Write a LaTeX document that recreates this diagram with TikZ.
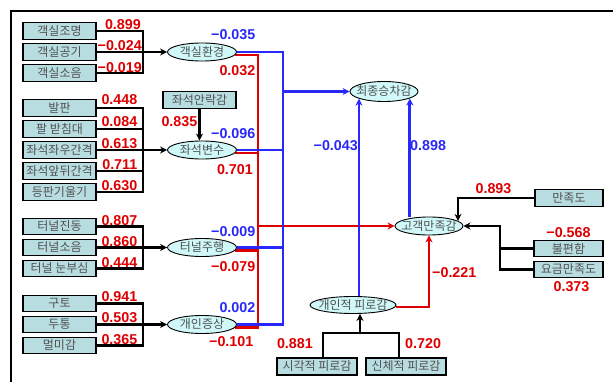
\documentclass[tikz,border=0pt]{standalone}
\usepackage{fontspec}
\setmainfont{Liberation Sans}
\newfontfamily\kr{Noto Sans CJK KR}
\usetikzlibrary{arrows.meta,shapes.geometric,backgrounds,positioning}

\definecolor{boxcol}{RGB}{184,221,225}
\definecolor{ellcol}{RGB}{208,248,248}
\definecolor{txtcol}{RGB}{80,80,80}
\definecolor{coefred}{RGB}{222,0,0}
\definecolor{coefblue}{RGB}{40,40,250}
\newcommand\nowidth[1]{\makebox[0pt]{#1}}

\tikzset{
  item/.style={draw,line width=1.1pt,fill=boxcol,text=txtcol,inner sep=0pt,
    minimum width=73pt,minimum height=16.5pt,font=\kr\fontsize{12}{12}\selectfont},
  factor/.style={ellipse,draw,line width=0.9pt,fill=ellcol,text=txtcol,inner sep=0pt,
    minimum width=69pt,minimum height=18pt,font=\kr\fontsize{12}{12}\selectfont},
  coefr/.style={text=coefred,inner sep=0pt,font=\bfseries\fontsize{14.3}{14}\selectfont},
  coefb/.style={coefr,text=coefblue},
  link/.style={line width=2.8pt},
  arr/.style={link,-{Stealth[length=7pt,width=7pt]}}
}

\begin{document}
\begin{tikzpicture}[x=1pt,y=-1pt]
  \useasboundingbox(0,0)rectangle(613,382);
  \draw[line width=1.5pt](613,11)--(11,11)--(11,382);

  \node[item](light)at(59.5,31){객실조명};
  \node[item](air)at(59.5,52){객실공기};
  \node[item](noise)at(59.5,73){객실소음};
  \node[factor](room)at(202,52){\nowidth{객실환경}};

  \node[item](foot)at(59.5,108){발판};
  \node[item](arm)at(59.5,129){팔 받침대};
  \node[item](side)at(59.5,150){좌석좌우간격};
  \node[item](pitch)at(59.5,171){좌석앞뒤간격};
  \node[item](back)at(59.5,192){등판기울기};
  \node[item](comf)at(199.5,100){좌석안락감};
  \node[factor](seat)at(202,150){\nowidth{좌석변수}};

  \node[item](vib)at(59.5,226.5){터널진동};
  \node[item](tnoise)at(59.5,247.5){터널소음};
  \node[item](glare)at(59.5,268.5){터널 눈부심};
  \node[factor](tunnel)at(202,247.5){\nowidth{터널주행}};

  \node[item](vomit)at(59.5,303.5){구토};
  \node[item](head)at(59.5,324.5){두통};
  \node[item](sick)at(59.5,345.5){멀미감};
  \node[factor](symp)at(202,324.5){\nowidth{개인증상}};

  \node[factor,minimum width=68pt,minimum height=20pt](ride)at(384,91.5){\nowidth{최종승차감}};
  \node[factor,minimum width=68pt](csat)at(429,226){\nowidth{고객만족감}};
  \node[factor,minimum width=86pt,minimum height=17pt](fatg)at(353,305){\nowidth{개인적 피로감}};
  \node[item,minimum width=68pt,minimum height=17.5pt](satis)at(569,198){만족도};
  \node[item,minimum width=69pt](incon)at(568.5,248.5){불편함};
  \node[item,minimum width=69pt](fare)at(568.5,269.5){요금만족도};
  \node[item,minimum width=80pt,minimum height=17pt](vis)at(317,366.5){시각적 피로감};
  \node[item,minimum width=80pt,minimum height=17pt](phys)at(406,366.5){신체적 피로감};

  \coordinate(bus)at(143,0);
  \coordinate(rbus)at(258,0);
  \coordinate(bbus)at(283,0);
  \coordinate(rjoin)at(500,0);
  \coordinate(fl)at(323,333);
  \coordinate(fm)at(360,333);
  \coordinate(fr)at(399,333);

  \begin{scope}[on background layer]
    \foreach \ta/\tb/\tc/\tl in {light/air/noise/room,foot/side/back/seat,
      vib/tnoise/glare/tunnel,vomit/head/sick/symp}{
      \draw[link](\ta.east)-|(bus|-\tc.east)--(\tc.east);
      \draw[arr](\tb.east)--(\tl.west);
    }
    \draw[link](arm.east)--(arm.east-|bus);
    \draw[link](pitch.east)--(pitch.east-|bus);
    \draw[arr](comf.south)--(comf.south|-seat.north);

    \draw[link,coefred](room.-5)-|(rbus|-symp.-5)--(symp.-5);
    \draw[link,coefred](seat.-5 -| rbus)--(seat.-5);
    \draw[link,coefred](tunnel.-5 -| rbus)--(tunnel.-5);
    \draw[arr,coefred](rbus|-csat.west)--(csat.west);
    \draw[arr,coefred]([yshift=-2pt]fatg.east)-|(csat.south);

    \draw[link,coefblue](room.east)-|(bbus|-symp.east)--(symp.east);
    \draw[link,coefblue](seat.east)--(seat.east-|bbus);
    \draw[link,coefblue](tunnel.east)--(tunnel.east-|bbus);
    \draw[arr,coefblue](bbus|-ride.west)--(ride.west);
    \draw[arr,coefblue](ride.196|-fatg.north)--(ride.196);
    \draw[arr,coefblue](ride.-15|-csat.north)--(ride.-15);

    \draw[arr](satis.west)-|(csat.10);
    \draw[link](incon.west)--(incon.west-|rjoin);
    \draw[arr](fare.west)-|(rjoin|-csat.east)--(csat.east);
    \draw[link](vis.north-|fl)--(fl)--(fr)--(phys.north-|fr);
    \draw[arr](fm)--(fm|-fatg.south);
  \end{scope}

  \node[coefr,anchor=east]at(141,24.5){0.899};
  \node[coefr,anchor=east]at(142,45.5){−0.024};
  \node[coefr,anchor=east]at(142,67.5){−0.019};
  \node[coefr,anchor=east]at(137.5,100){0.448};
  \node[coefr,anchor=east]at(137.5,122){0.084};
  \node[coefr,anchor=east]at(137.5,143.5){0.613};
  \node[coefr,anchor=east]at(137.5,164.5){0.711};
  \node[coefr,anchor=east]at(137.5,185.5){0.630};
  \node[coefr,anchor=east]at(137.5,220.5){0.807};
  \node[coefr,anchor=east]at(137.5,241.5){0.860};
  \node[coefr,anchor=east]at(137.5,262.5){0.444};
  \node[coefr,anchor=east]at(137.5,296.5){0.941};
  \node[coefr,anchor=east]at(137.5,318){0.503};
  \node[coefr,anchor=east]at(137.5,339.5){0.365};
  \node[coefr,anchor=east]at(197.5,122){0.835};

  \node[coefb,anchor=east]at(255.5,34.5){−0.035};
  \node[coefr,anchor=east]at(255.5,70.5){0.032};
  \node[coefb,anchor=east]at(255.5,133.5){−0.096};
  \node[coefr,anchor=east]at(253,169.5){0.701};
  \node[coefb,anchor=east]at(255.5,232){−0.009};
  \node[coefr,anchor=east]at(255.5,266.5){−0.079};
  \node[coefb,anchor=east]at(255.5,308){0.002};
  \node[coefr,anchor=east]at(253.5,341.5){−0.101};

  \node[coefb,anchor=east]at(358,146){−0.043};
  \node[coefb,anchor=west]at(410,146){0.898};
  \node[coefr]at(493.5,189){0.893};
  \node[coefr]at(568.5,233){−0.568};
  \node[coefr]at(571.5,287){0.373};
  \node[coefr,anchor=west]at(432,273){−0.221};
  \node[coefr,anchor=east]at(313,343.5){0.881};
  \node[coefr,anchor=west]at(405,343.5){0.720};
\end{tikzpicture}
\end{document}
